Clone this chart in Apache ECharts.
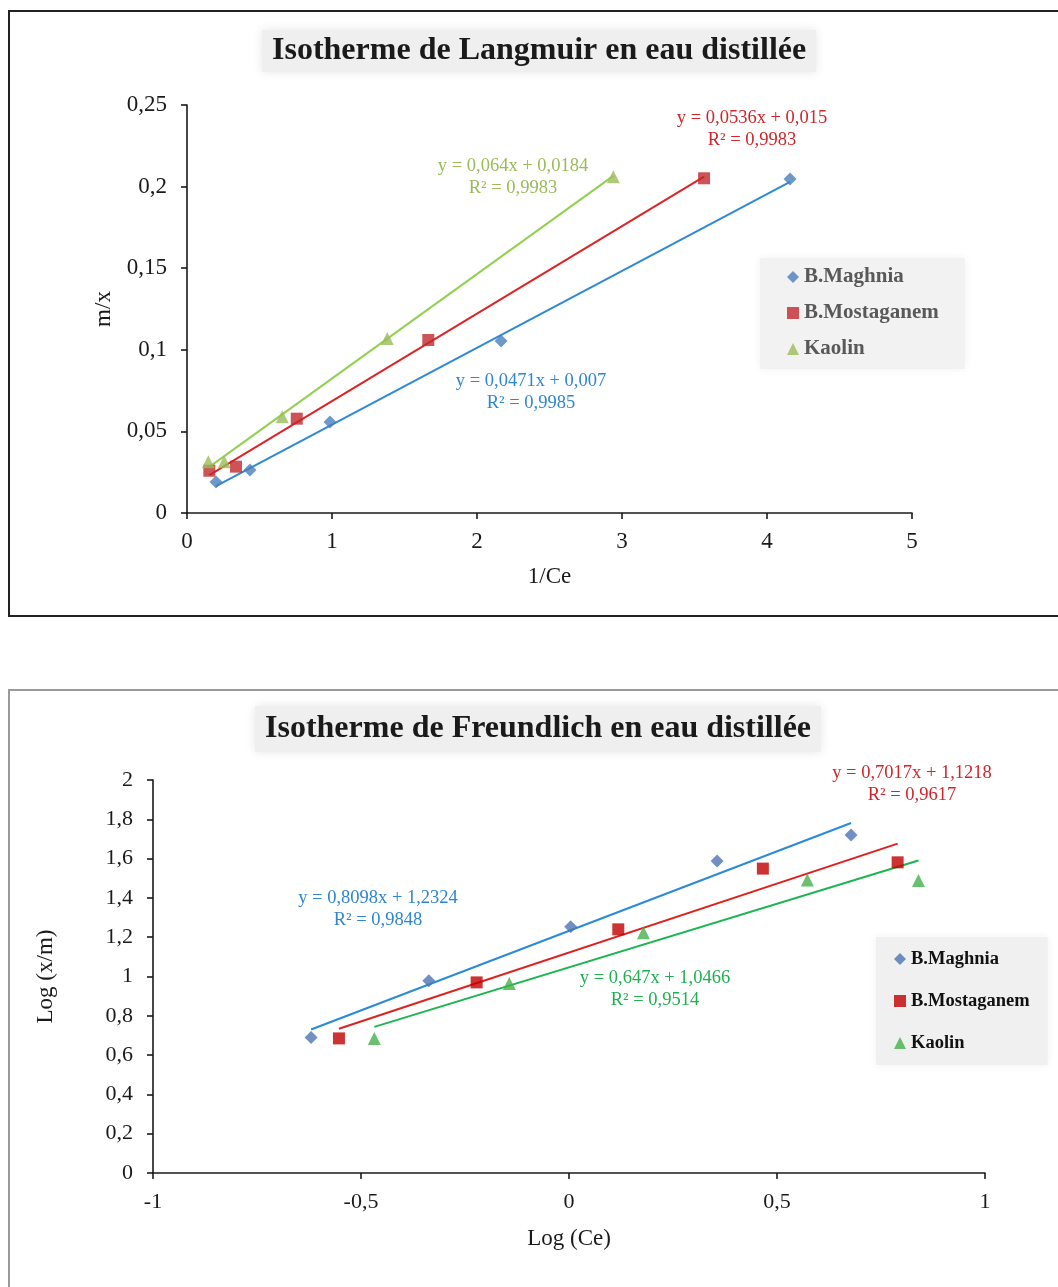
<!DOCTYPE html>
<html>
<head>
<meta charset="utf-8">
<script src="https://cdn.jsdelivr.net/npm/echarts@6/dist/echarts.min.js"></script>
<style>
  html, body { margin: 0; padding: 0; background: #ffffff; overflow: hidden; width: 1058px; height: 1287px; }
  .frame { position: absolute; box-sizing: border-box; }
  #frameTop { left: 8px; top: 10px; width: 1100px; height: 607px; border: 2px solid #222222; }
  #frameBottom { left: 8px; top: 689px; width: 1100px; height: 700px; border: 2px solid #9a9a9a; }
  .chart { position: absolute; left: 0; width: 1058px; }
  #langmuir { top: 0; height: 650px; }
  #freundlich { top: 650px; height: 637px; }
</style>
</head>
<body>
<div class="frame" id="frameTop"></div>
<div class="frame" id="frameBottom"></div>
<div class="chart" id="langmuir"></div>
<div class="chart" id="freundlich"></div>
<script>
// ---- Langmuir: 1/Ce vs m/x ----
const langMaghniaX = [0.200, 0.434, 0.986, 2.166, 4.159];
const langMaghniaY = [0.0190, 0.0263, 0.0558, 0.1054, 0.2047];
const langMostaX   = [0.154, 0.338, 0.757, 1.664, 3.566];
const langMostaY   = [0.0259, 0.0284, 0.0578, 0.1060, 0.2051];
const langKaolinX  = [0.147, 0.257, 0.657, 1.381, 2.940];
const langKaolinY  = [0.0314, 0.0314, 0.0590, 0.1070, 0.2060];
// linear fits: [slope, intercept]
const langMaghniaFit = [0.0471, 0.007];
const langMostaFit   = [0.0536, 0.015];
const langKaolinFit  = [0.064, 0.0184];

// ---- Freundlich: Log(Ce) vs Log(x/m) ----
const frMaghniaX = [-0.620, -0.337, 0.004, 0.356, 0.678];
const frMaghniaY = [0.690, 0.979, 1.253, 1.588, 1.720];
const frMostaX   = [-0.553, -0.222, 0.1185, 0.466, 0.790];
const frMostaY   = [0.685, 0.970, 1.240, 1.549, 1.581];
const frKaolinX  = [-0.468, -0.1435, 0.179, 0.573, 0.840];
const frKaolinY  = [0.685, 0.965, 1.223, 1.491, 1.488];
const frMaghniaFit = [0.8098, 1.2324];
const frMostaFit   = [0.7017, 1.1218];
const frKaolinFit  = [0.647, 1.0466];

const seriesNames = ['B.Maghnia', 'B.Mostaganem', 'Kaolin'];

const SERIF = '"Liberation Serif", "Times New Roman", serif';

function pairs(xs, ys) { return xs.map((x, i) => [x, ys[i]]); }
function fitLine(xs, fit) {
  const lo = Math.min.apply(null, xs), hi = Math.max.apply(null, xs);
  return [[lo, fit[0] * lo + fit[1]], [hi, fit[0] * hi + fit[1]]];
}
function comma(v) { return String(Math.round(v * 1000) / 1000).replace('.', ','); }

function axisCommon(labelSize) {
  return {
    axisLine: { show: true, onZero: false, lineStyle: { color: '#1a1a1a', width: 1.6 } },
    axisTick: { show: true, inside: false, length: 6, lineStyle: { color: '#1a1a1a', width: 1.6 } },
    splitLine: { show: false },
    axisLabel: { formatter: comma, fontFamily: SERIF, fontSize: labelSize, color: '#1a1a1a' },
    nameLocation: 'middle',
    nameTextStyle: { fontFamily: SERIF, fontSize: 23, color: '#1a1a1a' }
  };
}

function scatter(name, data, symbol, color, size) {
  return { type: 'scatter', name: name, data: data, symbol: symbol, symbolSize: size,
           itemStyle: { color: color }, z: 5, silent: true };
}
function trend(data, color) {
  return { type: 'line', name: '_fit', data: data, showSymbol: false, symbol: 'none',
           lineStyle: { color: color, width: 2 }, z: 3, silent: true };
}
// regression equation + R² block, centred on (cx, cy)
function eqText(cx, cy, lines, color) {
  return {
    type: 'text', x: cx, y: cy, z: 10,
    style: { text: lines.join('\n'), fill: color, font: '18.5px ' + SERIF,
             align: 'center', verticalAlign: 'middle', lineHeight: 22 }
  };
}

// ---------- Langmuir chart ----------
const c1 = echarts.init(document.getElementById('langmuir'));
const a1x = axisCommon(23), a1y = axisCommon(23);
c1.setOption({
  animation: false,
  title: {
    text: 'Isotherme de Langmuir en eau distillée',
    left: 262, top: 30,
    backgroundColor: '#efefef', padding: [3, 10],
    shadowBlur: 10, shadowColor: 'rgba(0,0,0,0.10)',
    textStyle: { fontFamily: SERIF, fontSize: 32, fontWeight: 'bold', color: '#1a1a1a', lineHeight: 36 }
  },
  legend: {
    data: [
      { name: 'B.Maghnia', icon: 'diamond' },
      { name: 'B.Mostaganem', icon: 'rect' },
      { name: 'Kaolin', icon: 'triangle' }
    ],
    orient: 'vertical', left: 760, top: 258,
    padding: [8, 26, 9, 27], itemGap: 14, itemWidth: 12, itemHeight: 12,
    backgroundColor: '#f2f2f2', shadowBlur: 8, shadowColor: 'rgba(0,0,0,0.06)',
    selectedMode: false,
    textStyle: { fontFamily: SERIF, fontSize: 21, fontWeight: 'bold', color: '#595959', lineHeight: 22 }
  },
  grid: { left: 187, top: 105, width: 725, height: 408 },
  xAxis: Object.assign(a1x, { type: 'value', min: 0, max: 5, interval: 1, name: '1/Ce', nameGap: 52,
    axisLabel: Object.assign({}, a1x.axisLabel, { margin: 17 }) }),
  yAxis: Object.assign(a1y, { type: 'value', min: 0, max: 0.25, interval: 0.05, name: 'm/x', nameGap: 70,
    axisLabel: Object.assign({}, a1y.axisLabel, { margin: 20 }) }),
  series: [
    trend(fitLine(langMaghniaX, langMaghniaFit), '#2f88d6'),
    trend(fitLine(langMostaX, langMostaFit), '#dc2426'),
    trend(fitLine(langKaolinX, langKaolinFit), '#92d050'),
    scatter(seriesNames[0], pairs(langMaghniaX, langMaghniaY), 'diamond', '#4a7ebb', 13),
    scatter(seriesNames[1], pairs(langMostaX, langMostaY), 'rect', '#c0282d', 12),
    scatter(seriesNames[2], pairs(langKaolinX, langKaolinY), 'triangle', '#9bbb59', 13)
  ],
  graphic: [
    eqText(513, 177, ['y = 0,064x + 0,0184', 'R² = 0,9983'], '#9bbb59'),
    eqText(752, 129, ['y = 0,0536x + 0,015', 'R² = 0,9983'], '#d0262a'),
    eqText(531, 392, ['y = 0,0471x + 0,007', 'R² = 0,9985'], '#2f86d1')
  ]
});

// ---------- Freundlich chart ----------
const c2 = echarts.init(document.getElementById('freundlich'));
const a2x = axisCommon(22), a2y = axisCommon(22);
c2.setOption({
  animation: false,
  title: {
    text: 'Isotherme de Freundlich en eau distillée',
    left: 255, top: 56,
    backgroundColor: '#efefef', padding: [4, 10],
    shadowBlur: 10, shadowColor: 'rgba(0,0,0,0.10)',
    textStyle: { fontFamily: SERIF, fontSize: 32, fontWeight: 'bold', color: '#1a1a1a', lineHeight: 38 }
  },
  legend: {
    data: [
      { name: 'B.Maghnia', icon: 'diamond' },
      { name: 'B.Mostaganem', icon: 'rect' },
      { name: 'Kaolin', icon: 'triangle' }
    ],
    orient: 'vertical', left: 876, top: 287,
    padding: [12, 18, 12, 18], itemGap: 22, itemWidth: 12, itemHeight: 12,
    backgroundColor: '#f0f0f0', shadowBlur: 8, shadowColor: 'rgba(0,0,0,0.06)',
    selectedMode: false,
    textStyle: { fontFamily: SERIF, fontSize: 18.5, fontWeight: 'bold', color: '#111111', lineHeight: 20 }
  },
  grid: { left: 153, top: 130, width: 832, height: 393 },
  xAxis: Object.assign(a2x, { type: 'value', min: -1, max: 1, interval: 0.5, name: 'Log (Ce)', nameGap: 54,
    axisLabel: Object.assign({}, a2x.axisLabel, { margin: 18 }) }),
  yAxis: Object.assign(a2y, { type: 'value', min: 0, max: 2, interval: 0.2, name: 'Log (x/m)', nameGap: 96,
    axisLabel: Object.assign({}, a2y.axisLabel, { margin: 20 }) }),
  series: [
    trend(fitLine(frMaghniaX, frMaghniaFit), '#2a8ad8'),
    trend(fitLine(frMostaX, frMostaFit), '#e0201f'),
    trend(fitLine(frKaolinX, frKaolinFit), '#1db550'),
    scatter(seriesNames[0], pairs(frMaghniaX, frMaghniaY), 'diamond', '#4f73b5', 13),
    scatter(seriesNames[1], pairs(frMostaX, frMostaY), 'rect', '#c00000', 12),
    scatter(seriesNames[2], pairs(frKaolinX, frKaolinY), 'triangle', '#43b04a', 13)
  ],
  graphic: [
    eqText(378, 259, ['y = 0,8098x + 1,2324', 'R² = 0,9848'], '#2e86d0'),
    eqText(912, 134, ['y = 0,7017x + 1,1218', 'R² = 0,9617'], '#d0262a'),
    eqText(655, 339, ['y = 0,647x + 1,0466', 'R² = 0,9514'], '#1fb04f')
  ]
});
</script>
</body>
</html>
